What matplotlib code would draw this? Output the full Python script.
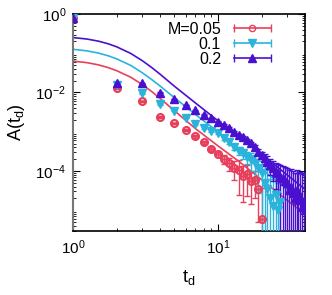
import matplotlib.pyplot as plt
import numpy as np
from matplotlib.lines import Line2D
from matplotlib.legend_handler import HandlerLine2D, HandlerTuple
from matplotlib.ticker import FixedLocator, NullFormatter

# donnees : A(t_d) pour chaque M
t_red = list(range(1, 21))
A_red = [0.8, 0.0129, 0.0060, 0.0024, 0.00162, 0.00112, 0.00076, 0.00054, 0.00036, 0.00027,
         0.000204, 0.000158, 0.00012, 0.000105, 7.6e-5, 8.3e-5, 5.4e-5, 6.0e-5, 3.5e-5, 6e-6]
err_red = [0.01, 3e-4, 2e-4, 1e-4, 8e-5, 6e-5, 5e-5, 4e-5, 4e-5, 4e-5,
           5e-5, 6e-5, 6e-5, 8e-5, 6e-5, 6e-5, 4e-5, 4e-5, 3e-5, 3e-5]

t_cyan = list(range(1, 28))
A_cyan = [0.8, 0.0151, 0.0095, 0.0050, 0.0034, 0.0023, 0.00158, 0.00123, 0.00105, 0.00091,
          0.00068, 0.00056, 0.00042, 0.00033, 0.00028, 0.00023, 0.00019, 0.000158, 0.000117, 8.7e-5,
          5e-5, 3.5e-5, 2.0e-5, 1.26e-5, 2.5e-5, 1e-5, 1.6e-5]
err_cyan = [0.01, 3e-4, 2e-4, 1.5e-4, 1e-4, 8e-5, 7e-5, 6e-5, 6e-5, 6e-5,
            6e-5, 6e-5, 7e-5, 7e-5, 8e-5, 8e-5, 9e-5, 9e-5, 9e-5, 9e-5,
            8e-5, 7e-5, 6e-5, 5e-5, 5e-5, 4e-5, 4e-5]

t_blue = list(range(1, 41))
A_blue = [0.8, 0.0174, 0.0170, 0.0098, 0.0068, 0.0048, 0.0035, 0.0027, 0.0022, 0.0018,
          0.00148, 0.00123, 0.00100, 0.00083, 0.00072, 0.00062, 0.00051, 0.00040, 0.00031, 0.00026,
          0.00021, 0.000174, 0.000141, 0.000117, 9.5e-5, 8.7e-5, 7.2e-5, 6.6e-5, 5.4e-5, 4.9e-5,
          3.3e-5, 4.0e-5, 2.8e-5, 2.0e-5, 3.3e-5, 1.8e-5, 2.2e-5, 1.2e-5, 1.7e-5, 1e-5]
err_blue = [0.01, 3e-4, 3e-4, 2e-4, 1.5e-4, 1e-4, 6e-5, 6e-5, 6e-5, 6e-5,
            6e-5, 6e-5, 6e-5, 6e-5, 5e-5, 5e-5, 5e-5, 5e-5, 5e-5, 5e-5,
            6e-5, 6e-5, 6e-5, 6e-5, 6e-5, 6e-5, 7e-5, 7e-5, 7e-5, 7e-5,
            7e-5, 7e-5, 7e-5, 7e-5, 7e-5, 7e-5, 7e-5, 7e-5, 7e-5, 7e-5]

# courbes d'ajustement
t_fit = [1, 1.25, 1.5, 1.75, 2, 2.5, 3, 3.5, 4, 5, 7, 10, 14, 20, 28, 40]
fit_red = [0.0631, 0.0575, 0.0505, 0.0430, 0.0360, 0.0245, 0.0160, 0.0105, 0.0070, 0.00345,
           0.0012, 0.000437, 0.000174, 6.0e-5, 2.2e-5, 7.9e-6]
fit_cyan = [0.126, 0.115, 0.101, 0.086, 0.072, 0.049, 0.032, 0.0212, 0.0145, 0.0074,
            0.00275, 0.00100, 0.000331, 0.000112, 4.2e-5, 1.5e-5]
fit_blue = [0.251, 0.230, 0.203, 0.174, 0.146, 0.099, 0.065, 0.0430, 0.0290, 0.0145,
            0.0054, 0.00191, 0.000724, 0.000263, 9.8e-5, 3.4e-5]

labels = ["M=0.05", "0.1", "0.2"]
c_red = '#e8405c'
c_cyan = '#2ab4dc'
c_blue = '#4a10d0'

plt.rcParams['font.family'] = 'Liberation Sans'
fig = plt.figure(figsize=(3.32, 2.95), dpi=100)
ax = fig.add_axes([0.22, 0.217, 0.699, 0.7355])

series = [(t_red, A_red, err_red, fit_red, c_red, r'$\ominus$', 5.5),
          (t_cyan, A_cyan, err_cyan, fit_cyan, c_cyan, 'v', 5.5),
          (t_blue, A_blue, err_blue, fit_blue, c_blue, '^', 5.5)]

handles = []
hmap = {tuple: HandlerTuple(ndivide=1, pad=0)}
for (t, A, e, f, c, m, ms), lab in zip(series, labels):
    ax.plot(t_fit, f, color=c, lw=1.2, zorder=2)
    ax.errorbar(t, A, yerr=e, fmt='none', ecolor=c, elinewidth=1, capsize=2.5, zorder=3)
    ax.plot(t, A, ls='none', marker=m, ms=ms, color=c, zorder=4)
    cercle = (m == r'$\ominus$')
    caps = Line2D([], [], color=c, lw=1.2, marker='|', ms=6)
    mk = Line2D([], [], color=c, ls='none', marker=('o' if cercle else m),
                ms=(4.5 if cercle else ms), mfc=('none' if cercle else c))
    hmap[caps] = HandlerLine2D(numpoints=2)
    hmap[mk] = HandlerLine2D(numpoints=1)
    handles.append((caps, mk))

ax.set_xscale('log')
ax.set_yscale('log')
ax.set_xlim(1, 40)
ax.set_ylim(10**-5.53, 1)

ax.yaxis.set_major_locator(FixedLocator([1e-4, 1e-2, 1]))
ax.yaxis.set_minor_locator(FixedLocator([m * 10.0**k for k in range(-6, 0) for m in range(2, 10)]))
ax.xaxis.set_major_locator(FixedLocator([1, 10]))
ax.xaxis.set_minor_locator(FixedLocator([m * 10.0**k for k in range(0, 2) for m in range(2, 10)]))
ax.yaxis.set_minor_formatter(NullFormatter())
ax.xaxis.set_minor_formatter(NullFormatter())
ax.tick_params(which='both', direction='in', top=True, right=True, labelsize=11, pad=5)
ax.tick_params(which='major', length=5)
ax.tick_params(which='minor', length=2.5)
ax.spines['left'].set_color('#777777')
ax.spines['left'].set_linewidth(1.5)
for s in ['top', 'bottom', 'right']:
    ax.spines[s].set_linewidth(1.2)

ax.set_xlabel(r'$\mathregular{t_d}$', fontsize=13, labelpad=8)
ax.set_ylabel(r'$\mathregular{A(t_d)}$', fontsize=13, labelpad=6)

leg = ax.legend(handles, labels, handler_map=hmap,
                loc='upper right', bbox_to_anchor=(0.92, 1.015), frameon=False, markerfirst=False,
                fontsize=11.5, handlelength=2.9, labelspacing=0.0, handletextpad=0.5, borderaxespad=0.3)

fig.savefig('out.png', dpi=100)
